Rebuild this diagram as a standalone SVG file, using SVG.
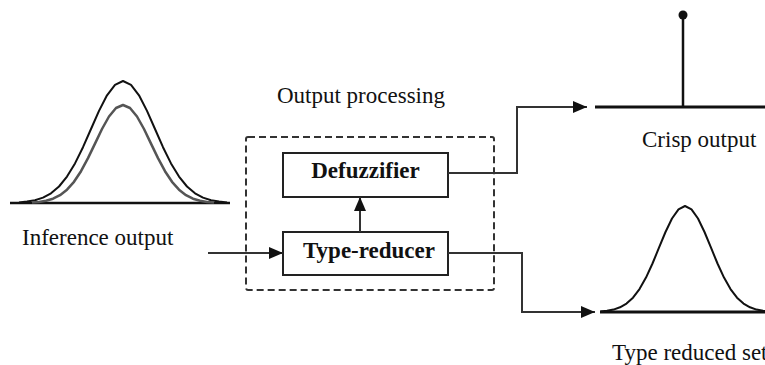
<svg xmlns="http://www.w3.org/2000/svg" width="765" height="365" viewBox="0 0 765 365">
<style>
.lbl{font-family:"Liberation Serif","Times New Roman",serif;font-size:23px;fill:#111}
.bold{font-family:"Liberation Serif","Times New Roman",serif;font-size:23px;font-weight:bold;fill:#111}
.box{fill:#fff;stroke:#222;stroke-width:2}
.conn{fill:none;stroke:#333;stroke-width:2}
.curve{fill:none;stroke:#111;stroke-width:2;stroke-linejoin:round}
.base{stroke:#111;stroke-width:3}
</style>
<defs>
<marker id="ah" markerWidth="14" markerHeight="12" refX="14" refY="6" orient="auto" markerUnits="userSpaceOnUse">
<path d="M0,0 L14,6 L0,12 Z" fill="#111"/>
</marker>
</defs>
<rect width="765" height="365" fill="#fff"/>

<g id="inference-output">
<line class="base" x1="10" y1="203" x2="230" y2="203" style="stroke-width:2.5"/>
<polyline class="curve" points="19,202.4 27,201.6 35,200.2 43,197.6 51,193.3 59,186.5 67,176.6 75,163.4 83,147.2 91,129 99,110.9 107,95.3 115,84.8 123,81 131,84.8 139,95.3 147,110.9 155,129 163,147.2 171,163.4 179,176.6 187,186.5 195,193.3 203,197.6 211,200.2 219,201.6 227,202.4"/>
<polyline class="curve" style="stroke:#555;stroke-width:2.5" points="32,202.5 39,201.9 46,200.8 53,198.7 60,195.2 67,189.7 74,181.8 81,171.2 88,158.1 95,143.6 102,129 109,116.5 116,108 123,105 130,108 137,116.5 144,129 151,143.6 158,158.1 165,171.2 172,181.8 179,189.7 186,195.2 193,198.7 200,200.8 207,201.9 214,202.5"/>
<text class="lbl" x="22" y="245">Inference output</text>
</g>

<g id="output-processing">
<rect x="246" y="137" width="248" height="153" rx="2" fill="none" stroke="#333" stroke-width="2" stroke-dasharray="7,4"/>
<text class="lbl" x="361" y="103" text-anchor="middle">Output processing</text>
</g>

<g id="defuzzifier">
<rect class="box" x="283" y="153" width="165" height="44"/>
<text class="bold" x="365.5" y="178" text-anchor="middle">Defuzzifier</text>
</g>

<g id="type-reducer">
<rect class="box" x="283" y="232" width="165" height="43"/>
<text class="bold" x="369" y="258" text-anchor="middle">Type-reducer</text>
</g>

<g id="crisp-output">
<line class="base" x1="595" y1="107" x2="765" y2="107"/>
<line x1="683" y1="15" x2="683" y2="107" stroke="#111" stroke-width="2.5"/>
<circle cx="683" cy="15" r="4.5" fill="#111"/>
<text class="lbl" x="642" y="147">Crisp output</text>
</g>

<g id="type-reduced-set">
<line class="base" x1="600" y1="312" x2="765" y2="312"/>
<polyline class="curve" points="600.5,311.5 607,310.8 613.5,309.6 620,307.3 626.5,303.6 633,297.7 639.5,289.1 646,277.6 652.5,263.5 659,247.7 665.5,232 672,218.5 678.5,209.3 685,206 691.5,209.3 698,218.5 704.5,232 711,247.7 717.5,263.5 724,277.6 730.5,289.1 737,297.7 743.5,303.6 750,307.3 756.5,309.6 763,310.8 769.5,311.5"/>
<text class="lbl" x="612" y="360">Type reduced set</text>
</g>

<g id="connectors">
<line class="conn" x1="208" y1="253" x2="283" y2="253" marker-end="url(#ah)"/>
<line class="conn" x1="360" y1="232" x2="360" y2="197" marker-end="url(#ah)"/>
<polyline class="conn" points="448,173 517,173 517,107 587,107" marker-end="url(#ah)"/>
<polyline class="conn" points="448,253 522,253 522,312 595,312" marker-end="url(#ah)"/>
</g>
</svg>
